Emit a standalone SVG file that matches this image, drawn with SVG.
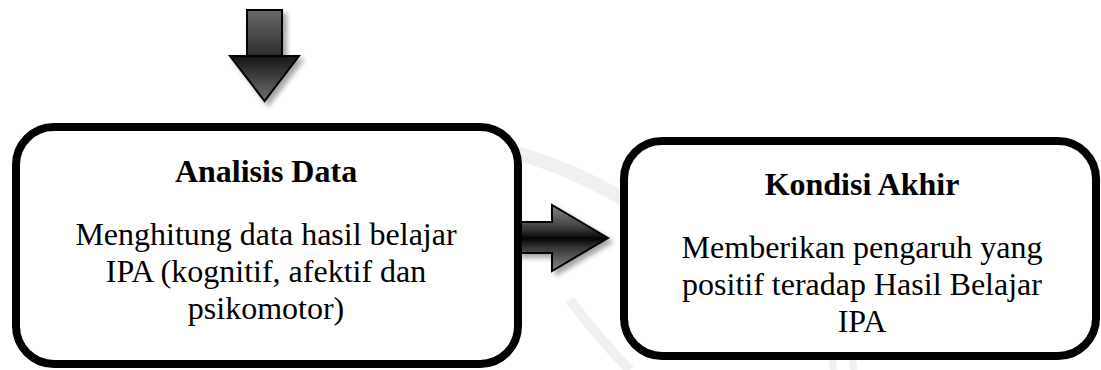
<svg xmlns="http://www.w3.org/2000/svg" width="1101" height="370" viewBox="0 0 1101 370">
  <style>
    .box { fill: #ffffff; stroke: #000000; stroke-width: 8; }
    .arrow { stroke: #000000; stroke-width: 2; stroke-linejoin: miter; }
    .mark { fill: none; stroke: #f0f0f0; }
  </style>
  <defs>
    <!-- soft shadow under the block arrows -->
    <filter id="shadow" x="-30%" y="-30%" width="170%" height="170%">
      <feDropShadow dx="4" dy="4" stdDeviation="2.5" flood-color="#000" flood-opacity="0.35"/>
    </filter>
    <!-- down arrow: shaft lightens upward, head darkens toward its base -->
    <linearGradient id="downShaft" x1="0" y1="0" x2="0" y2="1">
      <stop offset="0" stop-color="#6a6a6a"/>
      <stop offset="1" stop-color="#2c2c2c"/>
    </linearGradient>
    <linearGradient id="downHead" x1="0" y1="0" x2="0" y2="1">
      <stop offset="0" stop-color="#151515"/>
      <stop offset="1" stop-color="#707070"/>
    </linearGradient>
    <!-- right arrow: rounded look, dark along the centre line -->
    <linearGradient id="rightBody" gradientUnits="userSpaceOnUse" x1="0" y1="205" x2="0" y2="272">
      <stop offset="0" stop-color="#8a8a8a"/>
      <stop offset="0.35" stop-color="#3a3a3a"/>
      <stop offset="0.5" stop-color="#050505"/>
      <stop offset="0.65" stop-color="#3a3a3a"/>
      <stop offset="1" stop-color="#8a8a8a"/>
    </linearGradient>
  </defs>

  <rect width="1101" height="370" fill="#ffffff"/>

  <!-- faint background emblem -->
  <g id="background-mark">
    <path class="mark" stroke-width="14" d="M 505 150 Q 565 165 625 200"/>
    <path class="mark" stroke-width="10" d="M 570 300 Q 600 340 630 370"/>
    <path class="mark" stroke-width="7" d="M 830 345 L 834 370 M 850 345 L 854 370"/>
  </g>

  <!-- connectors -->
  <g id="connectors">
    <g id="arrow-in" filter="url(#shadow)">
      <rect class="arrow" x="247" y="10" width="35" height="46" fill="url(#downShaft)"/>
      <polygon class="arrow" points="230,56 299,56 264.5,101" fill="url(#downHead)"/>
    </g>
    <g id="arrow-analisis-kondisi" filter="url(#shadow)">
      <polygon class="arrow" points="518,222 552,222 552,205 608,238 552,271 552,253 518,253" fill="url(#rightBody)"/>
    </g>
  </g>

  <!-- nodes -->
  <g id="node-analisis-data">
    <rect class="box" x="16" y="127" width="502" height="237" rx="38" ry="38"/>
    <g font-family="Liberation Serif" font-size="32" text-anchor="middle" fill="#000000">
      <text x="266" y="182" font-weight="bold">Analisis Data</text>
      <text x="266" y="245">Menghitung data hasil belajar</text>
      <text x="266" y="282">IPA (kognitif, afektif dan</text>
      <text x="266" y="319">psikomotor)</text>
    </g>
  </g>

  <g id="node-kondisi-akhir">
    <rect class="box" x="624" y="141" width="472" height="215" rx="38" ry="38"/>
    <g font-family="Liberation Serif" font-size="32" text-anchor="middle" fill="#000000">
      <text x="862" y="195" font-weight="bold">Kondisi Akhir</text>
      <text x="862" y="258">Memberikan pengaruh yang</text>
      <text x="862" y="295">positif teradap Hasil Belajar</text>
      <text x="862" y="332">IPA</text>
    </g>
  </g>
</svg>
